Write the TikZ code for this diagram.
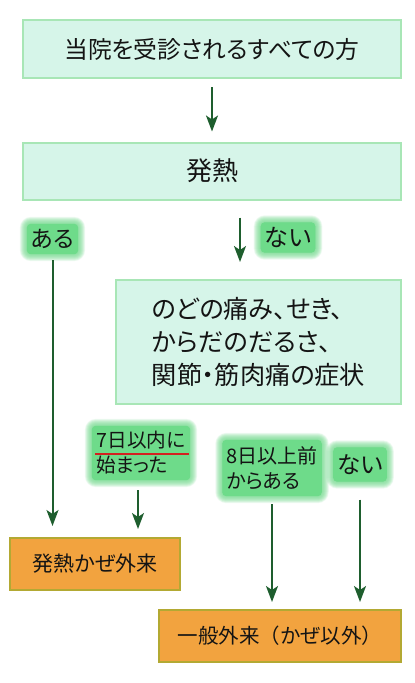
\documentclass[tikz,border=0pt]{standalone}
\usepackage{fontspec}
\setmainfont{Noto Sans CJK JP}[RawFeature=+palt]
\newfontfamily\nopalt{Noto Sans CJK JP}
\usetikzlibrary{arrows.meta,calc}
\pgfdeclarelayer{bg}
\pgfdeclarelayer{glow}
\pgfsetlayers{bg,glow,main}
\definecolor{mint}{HTML}{D6F5E9}
\definecolor{mintline}{HTML}{A8E6B6}
\definecolor{orfill}{HTML}{F2A33F}
\definecolor{orline}{HTML}{B3A933}
\definecolor{arrgreen}{HTML}{1E5E2E}
\definecolor{glowg}{HTML}{6EDB8A}
\definecolor{ulred}{HTML}{D42020}
\definecolor{txt}{HTML}{141414}
\newcommand\glowof[1]{%
  \fill[glowg, rounded corners=4pt] (#1.south west) rectangle (#1.north east);
  \foreach \i in {0.5,1,...,7}{%
    \fill[glowg, opacity=0.09, rounded corners=4pt+\i pt]
      ($(#1.south west)+(-\i,\i)$) rectangle ($(#1.north east)+(\i,-\i)$);}%
}
\begin{document}
\begin{tikzpicture}[x=1pt,y=-1pt,
  mintbox/.style={draw=mintline, fill=mint, line width=2pt, inner sep=0pt, text=txt},
  orbox/.style={draw=orline, fill=orfill, line width=2pt, inner sep=0pt, text=txt},
  arr/.style={draw=arrgreen, line width=2pt, -{Stealth[length=16pt,width=12pt,inset=4pt]}},
  lbl/.style={inner xsep=4pt, inner ysep=4pt, text=txt, align=left},
]
\useasboundingbox (0,0) rectangle (415,683);
\begin{pgfonlayer}{bg}
\fill[white] (0,0) rectangle (415,683);
\end{pgfonlayer}

\node[mintbox, minimum width=378pt, minimum height=58pt, font=\fontsize{23.8}{28}\selectfont] (b1) at (212,49) {当院を受診されるすべての方};
\node[mintbox, minimum width=378pt, minimum height=57pt, font=\fontsize{26}{30}\selectfont] (b2) at (212,171) {発熱};
\node[mintbox, minimum width=285pt, minimum height=124pt, align=left, font=\fontsize{25.2}{33}\selectfont] (b3) at (258.5,342) {のどの痛み、せき、\\からだのだるさ、\\関節・筋肉痛の症状};

\node[lbl, minimum width=50pt, minimum height=30pt, font=\fontsize{23}{26}\selectfont] (aru) at (52.5,239) {ある};
\node[lbl, minimum width=49pt, minimum height=30pt, font=\fontsize{24}{26}\selectfont] (nai1) at (288,237.5) {ない};
\node[lbl, minimum width=98pt, minimum height=54pt, font=\fontsize{19.6}{25}\selectfont] (n7) at (141,453) {7日以内に\\始まった};
\node[lbl, minimum width=98pt, minimum height=56pt, font=\fontsize{20}{25}\selectfont] (n8) at (272,468) {8日以上前\\からある};
\node[lbl, minimum width=49pt, minimum height=34pt, font=\fontsize{23.5}{26}\selectfont] (nai2) at (360,464.5) {ない};

\node[orbox, minimum width=170pt, minimum height=52pt, font=\fontsize{21}{25}\selectfont] (o1) at (95,564) {発熱かぜ外来};
\node[orbox, minimum width=242pt, minimum height=52pt, font=\fontsize{20.5}{25}\selectfont] (o2) at (280,636) {一般外来{\nopalt （}かぜ以外{\nopalt ）}};

\begin{pgfonlayer}{glow}
  \glowof{aru}
  \glowof{nai1}
  \glowof{n7}
  \glowof{n8}
  \glowof{nai2}
\end{pgfonlayer}

\draw[ulred, line width=1.5pt] ($(n7.center)+(-46,1)$) -- ($(n7.center)+(48,1)$);

\draw[arr] ([yshift=-8pt]b1.south) -- ([yshift=10pt]b2.north);
\draw[arr] ([xshift=28pt,yshift=-17pt]b2.south) -- ([xshift=-18.5pt,yshift=17pt]b3.north);
\draw[arr] ($(aru.south)+(0,6)$) -- ($(aru.south |- o1.north)+(0,-11)$);
\draw[arr] ($(n7.south)+(-3,10)$) -- ($(n7.south |- o1.north)+(-3,-8)$);
\draw[arr] ($(n8.south)+(0,8)$) -- ($(n8.south |- o2.north)+(0,-7)$);
\draw[arr] ($(nai2.south)+(0,18)$) -- ($(nai2.south |- o2.north)+(0,-7)$);
\end{tikzpicture}
\end{document}
